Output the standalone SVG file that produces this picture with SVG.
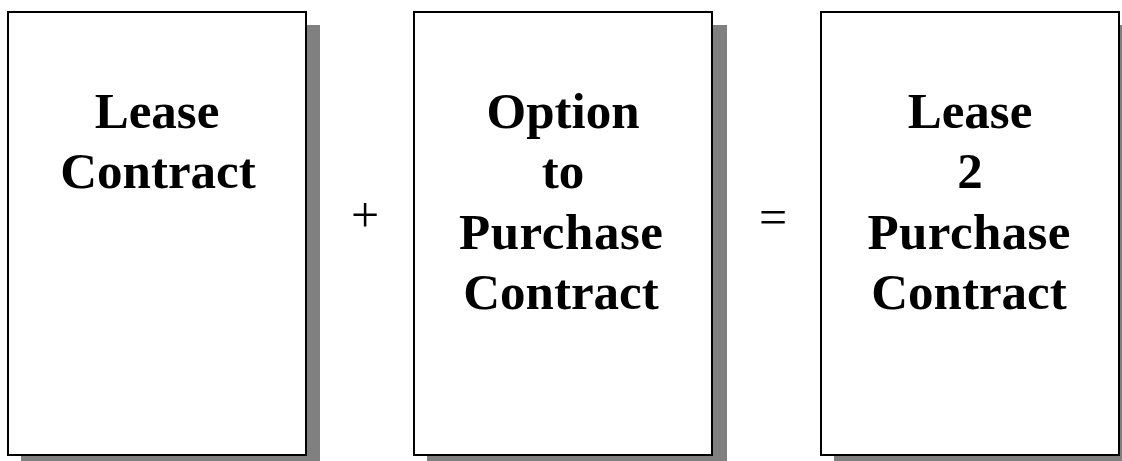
<svg xmlns="http://www.w3.org/2000/svg" width="1122" height="461" viewBox="0 0 1122 461">
<style>
.shadow{fill:#808080;}
.box{fill:#fff;stroke:#000;stroke-width:2;}
.t{font-family:"Liberation Serif","Times New Roman",serif;font-weight:bold;font-size:51px;text-anchor:middle;fill:#000;}
.op{font-family:"Liberation Serif","Times New Roman",serif;font-size:50px;text-anchor:middle;fill:#000;}
</style>
<rect width="1122" height="461" fill="#fff"/>
<g id="node1">
<rect class="shadow" x="21" y="25" width="299" height="443"/>
<rect class="box" x="8" y="12" width="298" height="443"/>
<text class="t" x="157" y="128">Lease</text>
<text class="t" x="158" y="188">Contract</text>
</g>
<g id="node2">
<rect class="shadow" x="427" y="25" width="300" height="443"/>
<rect class="box" x="414" y="12" width="298" height="443"/>
<text class="t" x="563" y="128">Option</text>
<text class="t" x="563" y="188">to</text>
<text class="t" x="561" y="249" textLength="204" lengthAdjust="spacing">Purchase</text>
<text class="t" x="561" y="309">Contract</text>
</g>
<g id="node3">
<rect class="shadow" x="834" y="25" width="300" height="443"/>
<rect class="box" x="821" y="12" width="298" height="443"/>
<text class="t" x="970" y="128">Lease</text>
<text class="t" x="970" y="188">2</text>
<text class="t" x="969" y="249" textLength="203" lengthAdjust="spacing">Purchase</text>
<text class="t" x="969" y="309">Contract</text>
</g>
<g id="connectors">
<text class="op" x="365" y="232">+</text>
<text class="op" x="773" y="234">=</text>
</g>
</svg>
